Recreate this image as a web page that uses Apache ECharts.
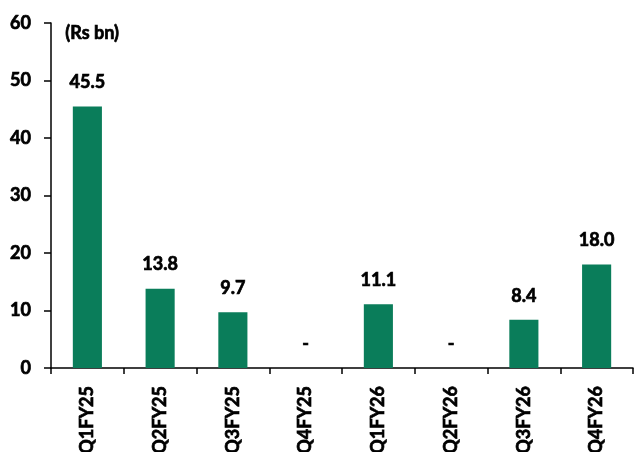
<!DOCTYPE html>
<html><head><meta charset="utf-8">
<script src="https://cdn.jsdelivr.net/npm/echarts@6/dist/echarts.min.js"></script>
<style>html,body{margin:0;padding:0;background:#fff}#c{width:635px;height:452px}</style>
</head><body><div id="c"></div>
<script>
const categories = ['Q1FY25','Q2FY25','Q3FY25','Q4FY25','Q1FY26','Q2FY26','Q3FY26','Q4FY26'];
const values = [45.5, 13.8, 9.7, 0, 11.1, 0, 8.4, 18.0];
const unitLabel = '(Rs bn)';
const FONT = 'Lato';
const thick = {textBorderColor: '#000', textBorderWidth: 0.7};
const chart = echarts.init(document.getElementById('c'));
chart.setOption({
  animation: false,
  grid: {left: 51, right: 2, top: 23, bottom: 84, containLabel: false, outerBoundsMode: 'none'},
  graphic: [{type: 'text', left: 65, top: 24, style: {text: unitLabel, font: 'bold 18px ' + FONT, fill: '#000', stroke: '#000', lineWidth: 0.7}}],
  xAxis: {
    type: 'category', data: categories,
    axisLine: {lineStyle: {color: '#000', width: 1.5}},
    axisTick: {show: true, length: 6, lineStyle: {color: '#000', width: 1.5}},
    axisLabel: Object.assign({rotate: 90, margin: 18, color: '#000', fontFamily: FONT, fontWeight: 'bold', fontSize: 18}, thick)
  },
  yAxis: {
    type: 'value', min: 0, max: 60, interval: 10,
    splitLine: {show: false},
    axisLine: {show: true, lineStyle: {color: '#000', width: 1.5}},
    axisTick: {show: true, length: 7, lineStyle: {color: '#000', width: 1.5}},
    axisLabel: Object.assign({margin: 20, color: '#000', fontFamily: FONT, fontWeight: 'bold', fontSize: 18}, thick)
  },
  series: [{
    type: 'bar', data: values, barWidth: '40%',
    itemStyle: {color: '#0a7d5a'},
    label: Object.assign({show: true, position: 'top', distance: 15, color: '#000', fontFamily: FONT, fontWeight: 'bold', fontSize: 18,
      formatter: p => p.value === 0 ? '-' : p.value.toFixed(1)}, thick)
  }]
});
</script></body></html>
